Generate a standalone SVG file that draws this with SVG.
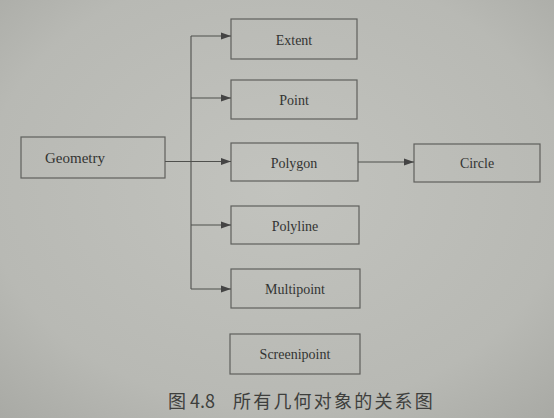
<svg xmlns="http://www.w3.org/2000/svg" width="554" height="418" viewBox="0 0 554 418">
<defs>
<radialGradient id="bg" cx="0.5" cy="0.45" r="0.75">
<stop offset="0" stop-color="#c2c3be"/>
<stop offset="0.7" stop-color="#b8b9b4"/>
<stop offset="1" stop-color="#a8a9a4"/>
</radialGradient>
<marker id="arr" viewBox="0 0 10 8" refX="10" refY="4" markerWidth="10" markerHeight="8" markerUnits="userSpaceOnUse" orient="auto">
<path d="M0,0.5 L10,4 L0,7.5 Z" fill="#444"/>
</marker>
<style>
.box{fill:none;stroke:#5f605d;stroke-width:1.2}
.lbl{font-family:'Liberation Serif','DejaVu Serif',serif;font-size:14px;fill:#333432;text-anchor:middle;dominant-baseline:central}
.con{fill:none;stroke:#4f504d;stroke-width:1.1}
.cap{font-family:'Noto Sans CJK SC','Noto Sans',sans-serif;font-size:18px;fill:#3e3f3d}
</style>
</defs>
<rect x="0" y="0" width="554" height="418" fill="url(#bg)"/>
<g id="geometry"><rect class="box" x="21" y="137" width="144" height="41"/><text class="lbl" x="75" y="158" style="font-size:15px">Geometry</text></g>
<g id="extent"><rect class="box" x="231" y="19" width="126" height="40"/><text class="lbl" x="294" y="40">Extent</text></g>
<g id="point"><rect class="box" x="231" y="80" width="126" height="39"/><text class="lbl" x="294" y="100">Point</text></g>
<g id="polygon"><rect class="box" x="231" y="143" width="127" height="38"/><text class="lbl" x="294" y="163">Polygon</text></g>
<g id="polyline"><rect class="box" x="231" y="206" width="128" height="38"/><text class="lbl" x="295" y="226">Polyline</text></g>
<g id="multipoint"><rect class="box" x="231" y="269" width="129" height="39"/><text class="lbl" x="295" y="289">Multipoint</text></g>
<g id="screenipoint"><rect class="box" x="230" y="334" width="130" height="40"/><text class="lbl" x="295" y="354">Screenipoint</text></g>
<g id="circle"><rect class="box" x="414" y="144" width="126" height="38"/><text class="lbl" x="477" y="163">Circle</text></g>
<g id="connectors">
<path class="con" d="M165,161.5 L231,161.5" marker-end="url(#arr)"/>
<path class="con" d="M191,36 L191,289"/>
<path class="con" d="M191,36 L231,36" marker-end="url(#arr)"/>
<path class="con" d="M191,98 L231,98" marker-end="url(#arr)"/>
<path class="con" d="M191,225 L231,225" marker-end="url(#arr)"/>
<path class="con" d="M191,289 L231,289" marker-end="url(#arr)"/>
<path class="con" d="M358,162 L414,162" marker-end="url(#arr)"/>
</g>
<g id="caption">
<text class="cap" x="168" y="408">图 4.8</text>
<text class="cap" x="233" y="408" style="letter-spacing:2.2px">所有几何对象的关系图</text>
</g>
</svg>
